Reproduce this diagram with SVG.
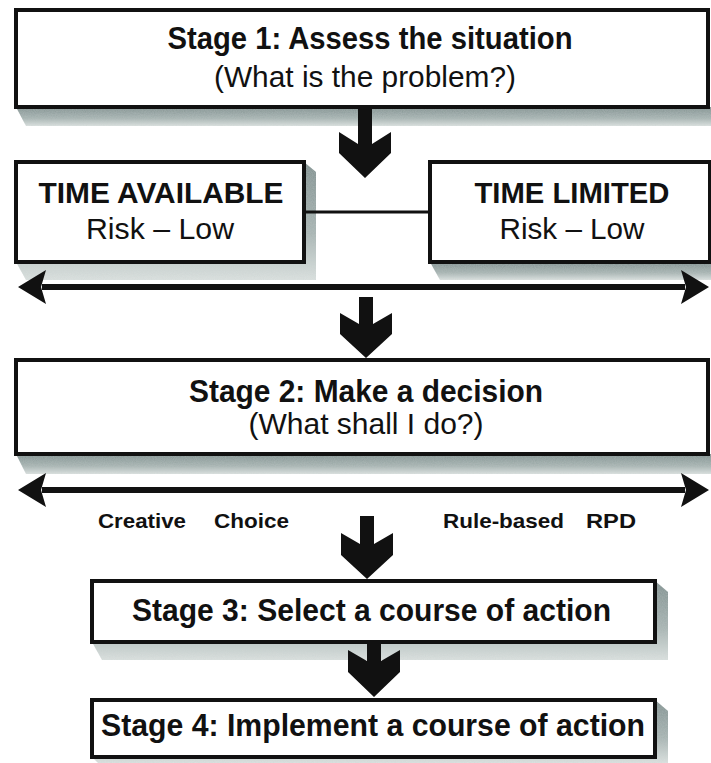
<svg xmlns="http://www.w3.org/2000/svg" width="711" height="763" viewBox="0 0 711 763">
  <defs>
    <linearGradient id="shadeV" x1="0" y1="0" x2="0" y2="1">
      <stop offset="0" stop-color="#7b8c8b"/>
      <stop offset="0.6" stop-color="#a6b3b1"/>
      <stop offset="1" stop-color="#dde3e1"/>
    </linearGradient>
    <filter id="grain" x="0" y="0" width="1" height="1">
      <feTurbulence type="fractalNoise" baseFrequency="0.9" numOctaves="2" seed="3" result="n"/>
      <feColorMatrix in="n" type="matrix" values="0 0 0 0 0.55  0 0 0 0 0.6  0 0 0 0 0.6  0 0 0 0.35 0" result="g"/>
      <feComposite in="g" in2="SourceGraphic" operator="in" result="gc"/>
      <feMerge><feMergeNode in="SourceGraphic"/><feMergeNode in="gc"/></feMerge>
    </filter>
    <marker id="head" markerUnits="userSpaceOnUse" markerWidth="30" markerHeight="34" viewBox="0 0 30 34" refX="4" refY="17" orient="auto-start-reverse">
      <path d="M0,0 L28,17 L0,34 L5,17 Z" fill="#111"/>
    </marker>
  </defs>
  <style>
    .box { fill: #ffffff; stroke: #111111; stroke-width: 4; }
    .shade { fill: url(#shadeV); filter: url(#grain); }
    .big { fill: #111111; }
    .dbl { stroke: #111111; stroke-width: 6; fill: none; marker-start: url(#head); marker-end: url(#head); }
    .link { stroke: #111111; stroke-width: 3; }
    .t { font-family: "Liberation Sans", Arial, Helvetica, sans-serif; fill: #111111; }
    .b { font-weight: bold; }
    .c { text-anchor: middle; }
  </style>
  <rect width="711" height="763" fill="#ffffff"/>

  <g id="stage1">
    <polygon class="shade" points="16,107 26,126 711,126 711,107"/>
    <rect class="box" x="16" y="10" width="692" height="97"/>
    <text class="t b c" x="370" y="49" font-size="31" textLength="405" lengthAdjust="spacingAndGlyphs">Stage 1: Assess the situation</text>
    <text class="t c" x="365" y="87" font-size="30" textLength="302" lengthAdjust="spacingAndGlyphs">(What is the problem?)</text>
  </g>

  <g id="time-available">
    <polygon class="shade" points="16,262 26,280 316,280 316,172 304,162"/>
    <rect class="box" x="16" y="162" width="288" height="100"/>
    <text class="t b c" x="161" y="203" font-size="29" textLength="245" lengthAdjust="spacingAndGlyphs">TIME AVAILABLE</text>
    <text class="t c" x="160" y="239" font-size="30" textLength="148" lengthAdjust="spacingAndGlyphs">Risk – Low</text>
  </g>

  <g id="time-limited">
    <polygon class="shade" points="430,262 440,280 711,280 711,262"/>
    <rect class="box" x="430" y="162" width="280" height="100"/>
    <text class="t b c" x="572" y="203" font-size="29" textLength="195" lengthAdjust="spacingAndGlyphs">TIME LIMITED</text>
    <text class="t c" x="572" y="239" font-size="30" textLength="145" lengthAdjust="spacingAndGlyphs">Risk – Low</text>
  </g>

  <g id="stage2">
    <polygon class="shade" points="16,454 26,474 711,474 711,454"/>
    <rect class="box" x="16" y="360" width="692" height="94"/>
    <text class="t b c" x="366" y="402" font-size="31" textLength="354" lengthAdjust="spacingAndGlyphs">Stage 2: Make a decision</text>
    <text class="t c" x="366" y="434" font-size="30" textLength="235" lengthAdjust="spacingAndGlyphs">(What shall I do?)</text>
  </g>

  <g id="stage3">
    <polygon class="shade" points="92,642 102,660 668,660 668,592 655,581"/>
    <rect class="box" x="92" y="581" width="563" height="61"/>
    <text class="t b" x="132" y="621" font-size="31" textLength="479" lengthAdjust="spacingAndGlyphs">Stage 3: Select a course of action</text>
  </g>

  <g id="stage4">
    <polygon class="shade" points="92,757 98,763 668,763 668,711 655,700"/>
    <rect class="box" x="92" y="700" width="563" height="57"/>
    <text class="t b" x="101" y="736" font-size="32" textLength="544" lengthAdjust="spacingAndGlyphs">Stage 4: Implement a course of action</text>
  </g>

  <g id="scale-labels">
    <text class="t b" x="98" y="528" font-size="21" textLength="88" lengthAdjust="spacingAndGlyphs">Creative</text>
    <text class="t b" x="214" y="528" font-size="21" textLength="75" lengthAdjust="spacingAndGlyphs">Choice</text>
    <text class="t b" x="443" y="528" font-size="21" textLength="121" lengthAdjust="spacingAndGlyphs">Rule-based</text>
    <text class="t b" x="586" y="528" font-size="21" textLength="50" lengthAdjust="spacingAndGlyphs">RPD</text>
  </g>

  <g id="connectors">
    <line class="link" x1="305" y1="212" x2="430" y2="212"/>
    <line class="dbl" x1="42" y1="287" x2="685" y2="287"/>
    <line class="dbl" x1="42" y1="490" x2="685" y2="490"/>
    <path class="big" d="M358,109 L372,109 L372,144 L391,132 L391,153 L365,178 L339,153 L339,132 L358,144 Z"/>
    <path class="big" d="M359,297 L373,297 L373,324 L392,313 L392,334 L366,358 L340,334 L340,313 L359,324 Z"/>
    <path class="big" d="M360,516 L374,516 L374,544 L393,533 L393,555 L367,579 L341,555 L341,533 L360,544 Z"/>
    <path class="big" d="M367,644 L381,644 L381,661 L400,650 L400,672 L374,697 L348,672 L348,650 L367,661 Z"/>
  </g>
</svg>
